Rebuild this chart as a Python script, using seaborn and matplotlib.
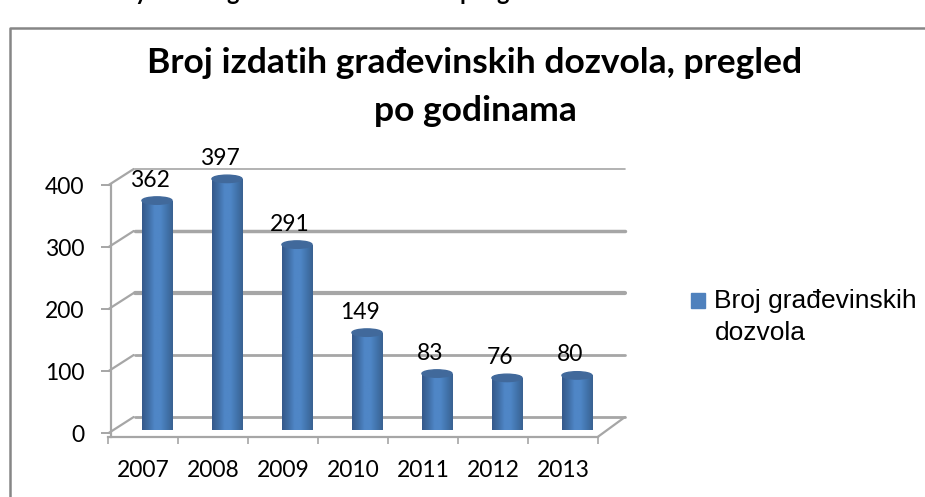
import numpy as np
import pandas as pd
import matplotlib
matplotlib.use('Agg')
import matplotlib.pyplot as plt
from matplotlib.patches import Ellipse, Rectangle
from matplotlib.colors import LinearSegmentedColormap
import seaborn as sns

godine = ['2007', '2008', '2009', '2010', '2011', '2012', '2013']
dozvole = [362, 397, 291, 149, 83, 76, 80]
y_oznake = [0, 100, 200, 300, 400]
naslov = 'Broj izdatih građevinskih dozvola, pregled\npo godinama'
legenda = 'Broj građevinskih\ndozvola'
# od gornjeg reda teksta vide se samo repovi slova
odrezana_slova = ['y', 'g', 'p', 'g']
odrezana_x = [141, 233, 466, 503]

W, H = 925, 497
PLAVA = '#4F81BD'
SIVA = '#a6a6a6'

sns.set_theme(style='white')
plt.rcParams['font.family'] = ['Lato', 'DejaVu Sans']

fig = plt.figure(figsize=(W / 100, H / 100), dpi=100)
fig.patch.set_facecolor('white')


def osi(lijevo, y_nula):
    # osi u pikselima, ista skala za sve tri ravnine
    px_po_jedinici = 62.0 / 100
    dno = y_nula + 6 * px_po_jedinici
    vrh = y_nula - 400 * px_po_jedinici
    a = fig.add_axes([lijevo / W, 1 - dno / H, 490 / W, (dno - vrh) / H])
    a.set_xlim(-0.5, 6.5)
    a.set_ylim(-6, 400)
    a.patch.set_alpha(0)
    return a


# zadnja ravnina s mrezom
ax_z = osi(135, 417)
ax_z.axis('off')
debljine = {0: 2, 100: 2, 200: 3, 300: 2.5, 400: 1.2}
for v in y_oznake:
    ax_z.axhline(v, color=SIVA, lw=debljine[v], clip_on=False)

# stupci
ax_s = osi(122, 425)
df = pd.DataFrame({'godina': godine, 'dozvole': dozvole})
sns.barplot(data=df, x='godina', y='dozvole', color=PLAVA, width=0.43,
            saturation=1, ax=ax_s, zorder=3)
ax_s.set_xlim(-0.5, 6.5)
ax_s.set_ylim(-6, 400)
ax_s.axis('off')

gradijent = LinearSegmentedColormap.from_list(
    'valjak', ['#35598a', '#3f6ca3', '#4f86c6', '#4f86c6', '#4274ad', '#3a6291'])
for bar in ax_s.patches:
    x0, sirina, h = bar.get_x(), bar.get_width(), bar.get_height()
    tijelo = Rectangle((x0, -8), sirina, h + 8, transform=ax_s.transData)
    slika = ax_s.imshow(np.linspace(0, 1, 64).reshape(1, -1), cmap=gradijent, aspect='auto',
                        extent=(x0, x0 + sirina, -8, h), zorder=4)
    slika.set_clip_on(True)
    slika.set_clip_path(tijelo)
    ax_s.add_patch(Ellipse((x0 + sirina / 2, h), sirina, 12, color='#41699b', zorder=5, clip_on=False))
    bar.set_visible(False)
ax_s.set_xlim(-0.5, 6.5)
ax_s.set_ylim(-9, 400)
ax_s.set_position([122 / W, 1 - (425 + 9 * 0.62) / H, 490 / W, (409 * 0.62) / H])

# prednja ravnina s osima
ax = osi(108, 433)
sns.despine(ax=ax, top=True, right=True)
ax.spines['left'].set_color(SIVA)
ax.spines['bottom'].set_color(SIVA)
ax.spines['left'].set_linewidth(1.6)
ax.spines['bottom'].set_linewidth(1.6)
ax.spines['left'].set_position(('outward', -2))
ax.set_yticks(y_oznake)
ax.set_yticklabels(y_oznake, fontsize=16.5, color='black')
ax.set_xticks(range(len(godine)))
ax.set_xticklabels(godine, fontsize=16.5, color='black')
ax.set_xticks(np.arange(-0.5, 7, 1), minor=True)
ax.tick_params(axis='y', which='major', left=True, length=7, width=1.4, color=SIVA, pad=12)
ax.tick_params(axis='x', which='major', bottom=False, pad=11)
ax.tick_params(axis='x', which='minor', bottom=True, length=5, width=1.2, color=SIVA)

# spojnice izmedu prednje i zadnje ravnine
dx, dy = 25 / 70, 16 / 0.62
for v in y_oznake:
    ax.plot([-0.49, -0.49 + dx], [v, v + dy], color=SIVA, lw=1.6, clip_on=False)
ax.plot([6.5, 6.5 + 27 / 70], [-6, dy], color=SIVA, lw=1.6, clip_on=False)

# oznake vrijednosti
for i, v in enumerate(dozvole):
    ax_s.annotate(str(v), (i, v), xytext=(-7, 10), textcoords='offset pixels', ha='center',
                  va='bottom', fontsize=16.5, color='black', annotation_clip=False, zorder=6)

# naslov i okvir
fig.text(475 / W, 1 - 87 / H, naslov, ha='center', va='center', fontsize=25.5, fontweight='bold',
         color='black', linespacing=1.6)
fig.add_artist(plt.Line2D([10 / W, 10 / W, 1], [0, 1 - 28 / H, 1 - 28 / H], color='#868686', lw=1.8))
for slovo, x in zip(odrezana_slova, odrezana_x):
    fig.text(x / W, 1.0, slovo, ha='center', va='baseline', fontsize=17, fontweight='bold', color='black')

# legenda
leg = fig.legend(handles=[Rectangle((0, 0), 1, 1, color=PLAVA)], labels=[legenda],
                 loc='upper left', bbox_to_anchor=(667 / W, 1 - 265 / H), frameon=False,
                 prop={'family': 'Liberation Sans', 'size': 19}, handlelength=0.55, handleheight=0.55,
                 handletextpad=0.35, labelspacing=0, labelcolor='black')
leg.get_texts()[0].set_linespacing(1.45)
# kvadrat u ravnini s prvim redom teksta
kvadrat = leg.legend_handles[0]
kvadrat.set_y(kvadrat.get_y() + 12)

fig.savefig('out.png', dpi=100)
